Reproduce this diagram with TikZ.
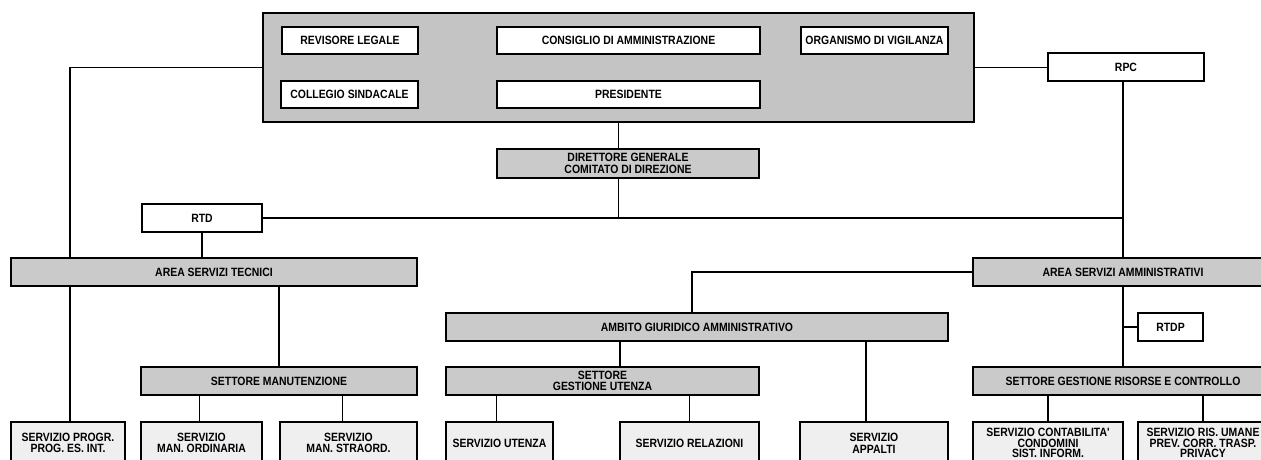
\documentclass[tikz,border=0pt]{standalone}
\usepackage{fontspec}
\setmainfont{Liberation Sans}
\newfontfamily\chartfont[FakeStretch=0.87]{Liberation Sans}
\usetikzlibrary{backgrounds}
\definecolor{topgray}{HTML}{C4C4C4}
\definecolor{boxgray}{HTML}{CACACA}
\definecolor{svcgray}{HTML}{EFEFEF}
\tikzset{
  base/.style={draw=black, line width=1.3pt, inner sep=0pt, align=center,
    font=\chartfont\fontsize{12}{11.6}\selectfont\bfseries},
  topbox/.style={base, fill=topgray},
  wbox/.style={base, fill=white},
  gbox/.style={base, fill=boxgray},
  sbox/.style={base, fill=svcgray, minimum height=42pt},
  tightsbox/.style={sbox, font=\chartfont\fontsize{12}{10.8}\selectfont\bfseries},
  conn/.style={draw=black, line width=1.3pt}
}
\begin{document}
\begin{tikzpicture}[x=1pt, y=-1pt]
\useasboundingbox (0,0) rectangle (1261,459);
\clip (0,0) rectangle (1261,459);
% top block
\node[topbox, minimum width=711pt, minimum height=109pt] (top) at (618.5,67.5) {};
\node[wbox, minimum width=136pt, minimum height=27pt] (rev) at (350,40.5) {REVISORE LEGALE};
\node[wbox, minimum width=137pt, minimum height=27pt] (col) at (349.5,94.5) {COLLEGIO SINDACALE};
\node[wbox, minimum width=263pt, minimum height=27pt] (cda) at (628.5,40.5) {CONSIGLIO DI AMMINISTRAZIONE};
\node[wbox, minimum width=263pt, minimum height=27pt] (pres) at (628.5,94.5) {PRESIDENTE};
\node[wbox, minimum width=147pt, minimum height=27pt] (odv) at (874.5,40.5) {ORGANISMO DI VIGILANZA};
\node[wbox, minimum width=156pt, minimum height=28pt] (rpc) at (1126,67) {RPC};
\node[gbox, minimum width=262pt, minimum height=29pt] (dg) at (628,163.5) {DIRETTORE GENERALE\\COMITATO DI DIREZIONE};
\node[wbox, minimum width=120pt, minimum height=28pt] (rtd) at (202,218) {RTD};
% areas
\node[gbox, minimum width=406pt, minimum height=28pt] (ast) at (214,272) {AREA SERVIZI TECNICI};
\node[gbox, minimum width=300pt, minimum height=28pt] (asa) at (1123,272) {AREA SERVIZI AMMINISTRATIVI};
\node[gbox, minimum width=502pt, minimum height=28pt] (aga) at (697,327) {AMBITO GIURIDICO AMMINISTRATIVO};
\node[wbox, minimum width=65pt, minimum height=28pt] (rtdp) at (1170.5,327) {RTDP};
% settori
\node[gbox, minimum width=276pt, minimum height=28pt] (sm) at (279,381) {SETTORE MANUTENZIONE};
\node[gbox, minimum width=313pt, minimum height=28pt] (sgu) at (602.5,381) {SETTORE\\GESTIONE UTENZA};
\node[gbox, minimum width=300pt, minimum height=28pt] (sgrc) at (1123,381) {SETTORE GESTIONE RISORSE E CONTROLLO};
% servizi
\node[sbox, minimum width=114pt] (s1) at (68,443) {SERVIZIO PROGR.\\PROG. ES. INT.};
\node[sbox, minimum width=121pt] (s2) at (201.5,443) {SERVIZIO\\MAN. ORDINARIA};
\node[sbox, minimum width=137pt] (s3) at (348.5,443) {SERVIZIO\\MAN. STRAORD.};
\node[sbox, minimum width=107pt] (s4) at (499.5,443) {SERVIZIO UTENZA};
\node[sbox, minimum width=139pt] (s5) at (689.5,443) {SERVIZIO RELAZIONI};
\node[sbox, minimum width=148pt] (s6) at (874,443) {SERVIZIO\\APPALTI};
\node[tightsbox, minimum width=150pt] (s7) at (1048,443) {SERVIZIO CONTABILITA'\\CONDOMINI\\SIST. INFORM.};
\node[tightsbox, minimum width=130pt] (s8) at (1203,443) {SERVIZIO RIS. UMANE\\PREV. CORR. TRASP.\\PRIVACY};
% connectors
\begin{scope}[on background layer]
\draw[conn] (top.west) -| ([xshift=2pt]s1.north);
\draw[conn] (top.east) -- (top.east -| rpc.west);
\draw[conn] (top.south) -- (top.south |- dg.north);
\draw[conn] (top.south |- dg.south) -- (top.south |- rtd.east);
\draw[conn] (rtd.east) -- ([xshift=-3pt]rtd.east -| rpc.south);
\draw[conn] ([xshift=-3pt]rpc.south) -- ([xshift=-3pt]rpc.south |- asa.north);
\draw[conn] (rtd.south) -- (rtd.south |- ast.north);
\draw[conn] (sm.north |- ast.south) -- (sm.north);
\draw[conn] ([xshift=-2pt]s2.north |- sm.south) -- ([xshift=-2pt]s2.north);
\draw[conn] ([xshift=-6pt]s3.north |- sm.south) -- ([xshift=-6pt]s3.north);
\draw[conn] (asa.west) -| ([xshift=-5pt]aga.north);
\draw[conn] ([xshift=17.5pt]sgu.north |- aga.south) -- ([xshift=17.5pt]sgu.north);
\draw[conn] ([xshift=-8pt]s6.north |- aga.south) -- ([xshift=-8pt]s6.north);
\draw[conn] ([xshift=-3pt]s4.north |- sgu.south) -- ([xshift=-3pt]s4.north);
\draw[conn] (s5.north |- sgu.south) -- (s5.north);
\draw[conn] (asa.south) -- (sgrc.north);
\draw[conn] (rtdp.west) -- (rtdp.west -| asa.south);
\draw[conn] (s7.north |- sgrc.south) -- (s7.north);
\draw[conn] (s8.north |- sgrc.south) -- (s8.north);
\end{scope}
\end{tikzpicture}
\end{document}
